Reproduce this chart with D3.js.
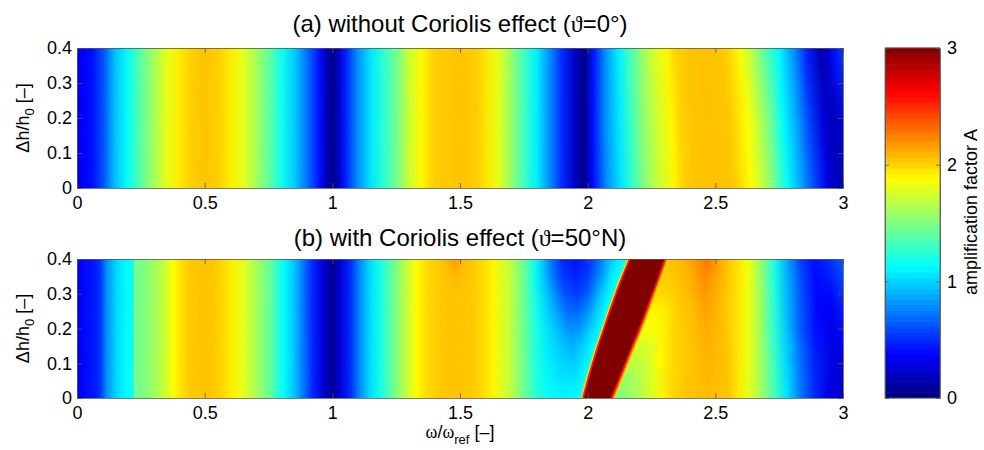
<!DOCTYPE html>
<html>
<head>
<meta charset="utf-8">
<script src="https://cdn.jsdelivr.net/npm/d3@7"></script>
<style>
  body { margin: 0; background: #fff; }
  svg { display: block; font-family: "Liberation Sans", Arial, sans-serif; }
  .axis text { font-size: 18px; fill: #000; }
  .axis path, .axis line { stroke: #555; stroke-width: 0.8px; }
  .label { font-size: 18px; fill: #000; }
  .title { font-size: 24px; fill: #000; }
  .greek { font-family: "Liberation Serif", "DejaVu Serif", serif; }
</style>
</head>
<body>
<svg id="chart" width="984" height="450"></svg>
<script>
// tick values
var omegaTicks = [0, 0.5, 1, 1.5, 2, 2.5, 3];
var dhTicks = [0, 0.1, 0.2, 0.3, 0.4];
var ampTicks = [0, 1, 2, 3];

// (a) amplification A along omega, [omega, A]; shared part (bands are vertical here)
var aLeft = [[0,0.3],[0.03,0.38],[0.06,0.42],[0.1,0.6],[0.15,0.95],[0.2,1.15],[0.25,1.4],[0.3,1.6],
  [0.35,1.8],[0.4,1.93],[0.45,2.02],[0.5,2.05],[0.55,2.02],[0.6,1.93],[0.65,1.8],[0.7,1.62],[0.75,1.42],
  [0.8,1.18],[0.85,0.98],[0.9,0.72],[0.95,0.42],[0.98,0.15],[1.0,0.04],[1.02,0.15],[1.05,0.45],[1.1,0.8],
  [1.15,1.05],[1.2,1.25],[1.25,1.45],[1.3,1.72],[1.35,1.9],[1.4,2.02],[1.5,2.05],[1.57,2.02],[1.6,1.95],
  [1.65,1.8],[1.7,1.57],[1.75,1.32],[1.8,1.08],[1.85,0.8],[1.9,0.5],[1.95,0.2]];
// (a) right part, per height (bands bend slightly)
var aHeights = [0, 0.2, 0.4];
var aRight00 = [[1.985,0.03],[2.02,0.4],[2.076,0.8],[2.13,1.05],[2.18,1.3],[2.23,1.55],[2.28,1.72],[2.34,1.9],
  [2.37,2.0],[2.41,2.04],[2.49,2.06],[2.57,2.04],[2.6,1.97],[2.64,1.88],[2.68,1.72],[2.73,1.47],[2.78,1.15],
  [2.835,0.88],[2.886,0.6],[2.94,0.3],[2.98,0.15],[3,0.18]];
var aRight02 = [[1.985,0.03],[2.02,0.42],[2.07,0.8],[2.125,1.06],[2.17,1.3],[2.22,1.55],[2.27,1.73],[2.33,1.9],
  [2.36,2.0],[2.4,2.04],[2.475,2.06],[2.555,2.04],[2.585,1.97],[2.625,1.87],[2.665,1.7],[2.715,1.45],[2.765,1.12],
  [2.82,0.85],[2.87,0.55],[2.925,0.25],[2.96,0.15],[3,0.28]];
var aRight04 = [[1.99,0.03],[2.025,0.45],[2.07,0.8],[2.12,1.08],[2.16,1.3],[2.21,1.55],[2.26,1.75],[2.31,1.9],
  [2.34,2.0],[2.38,2.04],[2.455,2.06],[2.53,2.04],[2.565,1.97],[2.6,1.86],[2.645,1.65],[2.7,1.35],[2.75,1.1],
  [2.81,0.78],[2.86,0.45],[2.91,0.12],[2.94,0.22],[2.965,0.42],[3,0.55]];

// (b) shared part up to omega 1.42
var bLeft = [[0,0.3],[0.03,0.4],[0.07,0.45],[0.09,0.52],[0.117,0.8],[0.156,1.02],[0.195,1.12],[0.221,1.17],
  [0.224,1.55],[0.228,1.55],[0.231,1.45],[0.273,1.52],[0.313,1.62],[0.352,1.75],[0.377,1.87],[0.404,1.95],
  [0.44,2.03],[0.5,2.05],[0.53,2.04],[0.574,1.98],[0.61,1.92],[0.65,1.8],[0.7,1.62],[0.757,1.42],[0.81,1.12],
  [0.848,0.97],[0.887,0.72],[0.926,0.47],[0.965,0.25],[1.0,0.05],[1.03,0.25],[1.07,0.5],[1.11,0.8],[1.15,1.03],
  [1.19,1.2],[1.24,1.45],[1.29,1.7],[1.33,1.88],[1.37,1.98],[1.42,2.03]];
// (b) per height from omega 1.45 on
var bHeights = [0, 0.05, 0.1, 0.15, 0.2, 0.25, 0.3, 0.35, 0.4];
var bRight000 = [[1.48,2.05],[1.55,2.03],[1.59,1.98],[1.63,1.9],[1.69,1.72],[1.75,1.45],[1.8,1.25],[1.85,1.12],
  [1.9,1.1],[1.94,1.12],[1.975,1.2],[2.1,1.45],[2.12,1.5],[2.18,1.6],[2.235,1.72],[2.29,1.9],[2.34,2.0],[2.39,2.05],
  [2.47,2.07],[2.55,2.05],[2.59,1.93],[2.63,1.8],[2.68,1.6],[2.73,1.33],[2.78,1.05],[2.835,0.72],[2.886,0.5],
  [2.94,0.3],[3,0.22]];
var bRight005 = [[1.48,2.05],[1.55,2.03],[1.59,1.98],[1.63,1.9],[1.69,1.72],[1.75,1.45],[1.8,1.22],[1.85,1.1],
  [1.9,1.05],[1.95,1.05],[1.99,1.15],[2.13,1.55],[2.2,1.65],[2.26,1.8],[2.32,1.97],[2.39,2.05],[2.47,2.08],
  [2.55,2.05],[2.59,1.94],[2.63,1.8],[2.68,1.6],[2.73,1.32],[2.78,1.03],[2.835,0.72],[2.886,0.5],[2.95,0.3],[3,0.24]];
var bRight010 = [[1.48,2.05],[1.55,2.03],[1.59,1.98],[1.63,1.9],[1.69,1.72],[1.75,1.45],[1.8,1.22],[1.85,1.08],
  [1.9,1.0],[1.95,0.98],[1.99,1.08],[2.015,1.15],[2.155,1.65],[2.23,1.72],[2.28,1.88],[2.34,2.0],[2.4,2.05],
  [2.47,2.09],[2.55,2.05],[2.59,1.94],[2.63,1.81],[2.68,1.6],[2.73,1.3],[2.78,1.0],[2.835,0.7],[2.886,0.48],
  [2.96,0.28],[3,0.27]];
var bRight015 = [[1.48,2.05],[1.55,2.03],[1.59,1.98],[1.63,1.9],[1.69,1.72],[1.75,1.45],[1.8,1.2],[1.85,1.05],
  [1.9,0.95],[1.94,0.9],[1.98,0.98],[2.02,1.12],[2.035,1.15],[2.18,1.75],[2.25,1.78],[2.29,1.9],[2.34,2.0],
  [2.4,2.05],[2.47,2.1],[2.545,2.05],[2.585,1.95],[2.63,1.82],[2.68,1.59],[2.73,1.28],[2.78,0.98],[2.835,0.68],
  [2.89,0.45],[2.96,0.3],[3,0.33]];
var bRight020 = [[1.48,2.05],[1.55,2.03],[1.59,1.98],[1.63,1.9],[1.69,1.72],[1.75,1.45],[1.8,1.2],[1.85,1.02],
  [1.89,0.9],[1.93,0.8],[1.97,0.82],[2.01,0.98],[2.05,1.12],[2.06,1.15],[2.21,1.86],[2.27,1.85],[2.3,1.92],
  [2.34,2.0],[2.4,2.05],[2.47,2.12],[2.54,2.05],[2.58,1.96],[2.63,1.82],[2.68,1.58],[2.73,1.25],[2.78,0.95],
  [2.83,0.65],[2.89,0.42],[2.955,0.32],[3,0.4]];
var bRight025 = [[1.48,2.05],[1.55,2.03],[1.59,1.98],[1.63,1.9],[1.69,1.72],[1.75,1.45],[1.8,1.18],[1.84,1.0],
  [1.88,0.85],[1.92,0.7],[1.96,0.68],[2.0,0.8],[2.04,1.0],[2.07,1.12],[2.08,1.15],[2.235,1.9],[2.3,1.92],
  [2.36,2.03],[2.41,2.07],[2.465,2.15],[2.52,2.07],[2.575,1.98],[2.625,1.84],[2.68,1.58],[2.73,1.25],[2.78,0.93],
  [2.835,0.63],[2.9,0.38],[2.955,0.35],[3,0.45]];
var bRight030 = [[1.48,2.05],[1.55,2.03],[1.59,1.98],[1.63,1.9],[1.69,1.72],[1.75,1.45],[1.79,1.2],[1.83,1.0],
  [1.87,0.8],[1.91,0.62],[1.96,0.55],[2.0,0.65],[2.05,0.95],[2.09,1.12],[2.105,1.15],[2.26,1.98],[2.32,2.0],
  [2.39,2.07],[2.46,2.18],[2.52,2.08],[2.575,1.98],[2.625,1.84],[2.68,1.57],[2.73,1.23],[2.78,0.92],[2.835,0.62],
  [2.895,0.4],[2.95,0.4],[3,0.52]];
var bRight035 = [[1.48,2.08],[1.55,2.03],[1.59,1.98],[1.63,1.9],[1.69,1.72],[1.75,1.45],[1.79,1.18],[1.82,1.0],
  [1.86,0.75],[1.9,0.55],[1.95,0.47],[2.0,0.55],[2.05,0.8],[2.09,1.05],[2.115,1.12],[2.13,1.15],[2.285,2.02],
  [2.34,2.04],[2.4,2.1],[2.46,2.22],[2.52,2.1],[2.57,2.0],[2.625,1.85],[2.68,1.55],[2.73,1.22],[2.78,0.9],
  [2.835,0.6],[2.89,0.4],[2.945,0.45],[3,0.58]];
var bRight040 = [[1.45,2.08],[1.48,2.17],[1.51,2.08],[1.55,2.03],[1.59,1.98],[1.63,1.9],[1.69,1.72],[1.75,1.45],
  [1.79,1.18],[1.82,0.98],[1.86,0.7],[1.9,0.5],[1.95,0.43],[2.0,0.5],[2.05,0.72],[2.1,1.0],[2.13,1.12],
  [2.155,1.15],[2.31,2.05],[2.365,2.08],[2.415,2.15],[2.47,2.28],[2.52,2.12],[2.57,2.0],[2.627,1.85],[2.68,1.55],
  [2.73,1.2],[2.78,0.88],[2.835,0.55],[2.886,0.42],[2.94,0.5],[3,0.65]];

// (b) saturated resonance band (A >= 3): omega edges per height
var bandH = [0, 0.05, 0.1, 0.15, 0.2, 0.25, 0.3, 0.35, 0.4];
var bandLo = [1.985, 2.003, 2.023, 2.044, 2.067, 2.09, 2.114, 2.14, 2.168];
var bandHi = [2.09, 2.118, 2.145, 2.172, 2.2, 2.226, 2.251, 2.276, 2.30];

var svg = d3.select('#chart');
var defs = svg.append('defs');

var x = d3.scaleLinear().domain([0, 3]).range([77, 843]);
var yA = d3.scaleLinear().domain([0, 0.4]).range([188, 48]);
var yB = d3.scaleLinear().domain([0, 0.4]).range([398, 259]);
var toT = d3.scaleLinear().domain([0, 3]).range([0, 1]).clamp(true);

// matlab jet colormap
function jet(v) {
  var t = toT(v);
  function c(u) { return Math.round(255 * Math.max(0, Math.min(1, 1.5 - Math.abs(u)))); }
  return d3.rgb(c(4 * t - 3), c(4 * t - 2), c(4 * t - 1)).toString();
}

// vertical fade used to shade between two rows
var fade = defs.append('linearGradient').attr('id', 'fadeGrad')
  .attr('x1', 0).attr('y1', 1).attr('x2', 0).attr('y2', 0);
fade.append('stop').attr('offset', 0).attr('stop-color', '#fff').attr('stop-opacity', 0);
fade.append('stop').attr('offset', 1).attr('stop-color', '#fff').attr('stop-opacity', 1);
defs.append('mask').attr('id', 'fade').attr('maskContentUnits', 'objectBoundingBox')
  .append('rect').attr('width', 1).attr('height', 1).attr('fill', 'url(#fadeGrad)');

function drawField(id, yScale, heights, left, rights) {
  var rows = heights.map(function(h, i) { return { h: h, stops: left.concat(rights[i]) }; });

  defs.append('clipPath').attr('id', id + '-clip')
    .append('rect')
    .attr('x', x(0)).attr('y', yScale(0.4))
    .attr('width', x(3) - x(0)).attr('height', yScale(0) - yScale(0.4));

  rows.forEach(function(r, i) {
    var grad = defs.append('linearGradient')
      .attr('id', id + '-row' + i)
      .attr('gradientUnits', 'userSpaceOnUse')
      .attr('x1', x(0)).attr('x2', x(3)).attr('y1', 0).attr('y2', 0);
    grad.selectAll('stop')
      .data(r.stops)
      .enter()
      .append('stop')
      .attr('offset', function(d) { return (x(d[0]) - x(0)) / (x(3) - x(0)); })
      .attr('stop-color', function(d) { return jet(d[1]); });
  });

  var g = svg.append('g').attr('clip-path', 'url(#' + id + '-clip)');

  d3.pairs(rows).forEach(function(p, i) {
    var top = yScale(p[1].h), bot = yScale(p[0].h);
    g.append('rect')
      .attr('x', x(0)).attr('y', top - 0.5)
      .attr('width', x(3) - x(0)).attr('height', bot - top + 1)
      .attr('fill', 'url(#' + id + '-row' + i + ')');
    g.append('rect')
      .attr('x', x(0)).attr('y', top - 0.5)
      .attr('width', x(3) - x(0)).attr('height', bot - top + 1)
      .attr('fill', 'url(#' + id + '-row' + (i + 1) + ')')
      .attr('mask', 'url(#fade)');
  });
  return g;
}

function drawAxes(yScale) {
  var bottom = yScale(0), top = yScale(0.4);
  svg.append('g').attr('class', 'axis')
    .attr('transform', 'translate(0,' + bottom + ')')
    .call(d3.axisBottom(x).tickValues(omegaTicks).tickFormat(function(d) { return d; })
      .tickSizeInner(-5).tickSizeOuter(0).tickPadding(8));
  svg.append('g').attr('class', 'axis')
    .attr('transform', 'translate(0,' + top + ')')
    .call(d3.axisTop(x).tickValues(omegaTicks).tickFormat('')
      .tickSizeInner(-5).tickSizeOuter(0));
  svg.append('g').attr('class', 'axis')
    .attr('transform', 'translate(' + x(0) + ',0)')
    .call(d3.axisLeft(yScale).tickValues(dhTicks).tickFormat(function(d) { return d; })
      .tickSizeInner(-5).tickSizeOuter(0).tickPadding(5));
  svg.append('g').attr('class', 'axis')
    .attr('transform', 'translate(' + x(3) + ',0)')
    .call(d3.axisRight(yScale).tickValues(dhTicks).tickFormat('')
      .tickSizeInner(-5).tickSizeOuter(0));
}

// panel (a)
drawField('pa', yA, aHeights, aLeft, [aRight00, aRight02, aRight04]);
drawAxes(yA);

// panel (b)
var gb = drawField('pb', yB, bHeights, bLeft,
  [bRight000, bRight005, bRight010, bRight015, bRight020, bRight025, bRight030, bRight035, bRight040]);

var band = bandH.map(function(h, i) { return { h: h, lo: bandLo[i], hi: bandHi[i] }; });
var edgeLo = d3.line().x(function(d) { return x(d.lo); }).y(function(d) { return yB(d.h); })
  .curve(d3.curveCatmullRom);
var edgeHi = d3.line().x(function(d) { return x(d.hi); }).y(function(d) { return yB(d.h); })
  .curve(d3.curveCatmullRom);
var bandArea = d3.area().y(function(d) { return yB(d.h); })
  .x0(function(d) { return x(d.lo); }).x1(function(d) { return x(d.hi); })
  .curve(d3.curveCatmullRom);

gb.append('path').datum(band).attr('d', edgeLo)
  .attr('fill', 'none').attr('stroke', '#ffe000').attr('stroke-width', 6);
gb.append('path').datum(band).attr('d', edgeHi)
  .attr('fill', 'none').attr('stroke', '#ffe000').attr('stroke-width', 8);
gb.append('path').datum(band).attr('d', edgeHi)
  .attr('fill', 'none').attr('stroke', '#ff8c00').attr('stroke-width', 6);
gb.append('path').datum(band).attr('d', edgeLo)
  .attr('fill', 'none').attr('stroke', '#ff1a00').attr('stroke-width', 3.4);
gb.append('path').datum(band).attr('d', edgeHi)
  .attr('fill', 'none').attr('stroke', '#ff1a00').attr('stroke-width', 3.6);
gb.append('path').datum(band).attr('d', bandArea).attr('fill', jet(3));

drawAxes(yB);

// colorbar
var yC = d3.scaleLinear().domain([0, 3]).range([398, 48]);
var levels = d3.range(64);
var lev = d3.scaleBand().domain(levels).range([398, 48]);
svg.append('g').selectAll('rect')
  .data(levels)
  .enter()
  .append('rect')
  .attr('x', 885).attr('width', 55)
  .attr('y', function(d) { return lev(d) - 0.3; })
  .attr('height', lev.bandwidth() + 0.6)
  .attr('fill', function(d) { return jet((d + 0.5) / 64 * 3); });
svg.append('g').attr('class', 'axis')
  .attr('transform', 'translate(940,0)')
  .call(d3.axisRight(yC).tickValues(ampTicks).tickFormat(function(d) { return d; })
    .tickSizeInner(-4).tickSizeOuter(0).tickPadding(7));
svg.append('g').attr('class', 'axis')
  .attr('transform', 'translate(885,0)')
  .call(d3.axisLeft(yC).tickValues(ampTicks).tickFormat('')
    .tickSizeInner(-4).tickSizeOuter(0));
svg.append('rect').attr('x', 885).attr('y', 48).attr('width', 55).attr('height', 350)
  .attr('fill', 'none').attr('stroke', '#555').attr('stroke-width', 0.8);

// titles
function title(yPos, pre, post) {
  var t = svg.append('text').attr('class', 'title').attr('x', 460).attr('y', yPos)
    .attr('text-anchor', 'middle');
  t.append('tspan').text(pre);
  t.append('tspan').attr('class', 'greek').text('\u03d1');
  t.append('tspan').text(post);
}
title(32, '(a) without Coriolis effect (', '=0\u00b0)');
title(246, '(b) with Coriolis effect (', '=50\u00b0N)');

// y labels
[yA, yB].forEach(function(ys) {
  var cy = (ys(0) + ys(0.4)) / 2;
  var t = svg.append('text').attr('class', 'label')
    .attr('transform', 'translate(29,' + cy + ') rotate(-90)')
    .attr('text-anchor', 'middle');
  t.append('tspan').text('\u0394h/h');
  t.append('tspan').attr('font-size', 13).attr('dy', 5).text('0');
  t.append('tspan').attr('dy', -5).text(' [\u2013]');
});

// x label
var xl = svg.append('text').attr('class', 'label').attr('x', 460).attr('y', 438)
  .attr('text-anchor', 'middle');
xl.append('tspan').attr('class', 'greek').text('\u03c9');
xl.append('tspan').text('/');
xl.append('tspan').attr('class', 'greek').text('\u03c9');
xl.append('tspan').attr('font-size', 13).attr('dy', 6).text('ref');
xl.append('tspan').attr('dy', -6).text(' [\u2013]');

// colorbar label
svg.append('text').attr('class', 'label')
  .attr('transform', 'translate(977,' + 212 + ') rotate(-90)')
  .attr('text-anchor', 'middle')
  .text('amplification factor A');
</script>
</body>
</html>
